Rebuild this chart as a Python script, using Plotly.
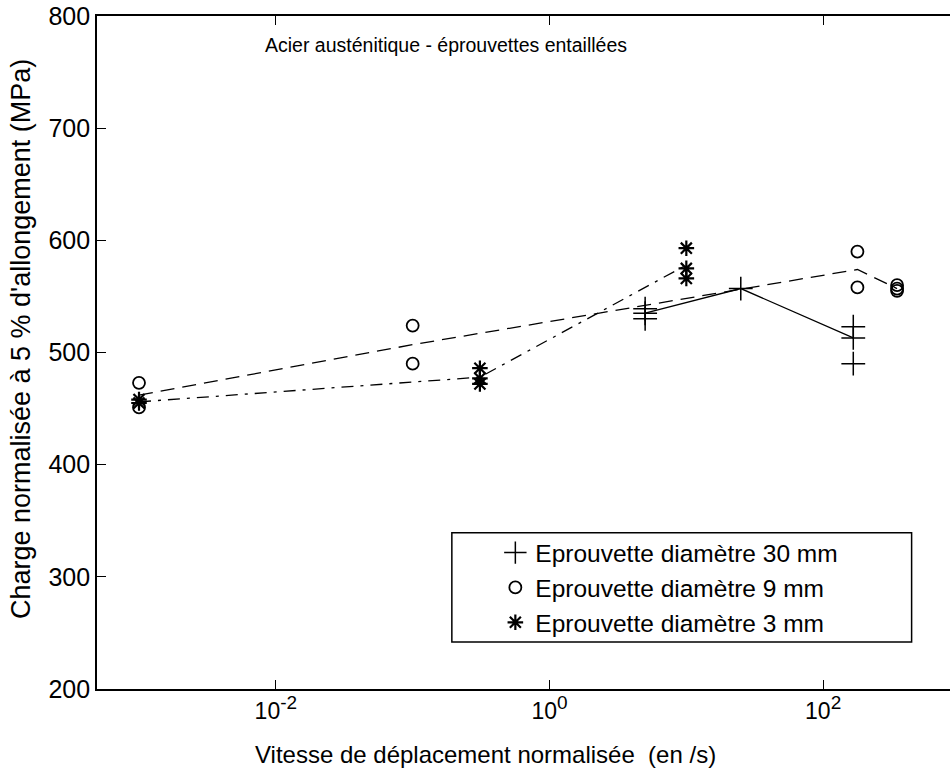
import plotly.graph_objects as go

# ---- data ----
x30 = [5, 5, 5, 25, 166, 166, 166]
y30 = [539, 535, 530, 557, 523, 513, 490]
line30_x = [5, 25, 166]
line30_y = [535, 557, 513]

x9 = [0.001, 0.001, 0.1, 0.1, 178, 178, 347, 347, 347]
y9 = [473, 451, 524, 490, 590, 558, 560, 557, 555]
line9_x = [0.001, 0.1, 178, 347]
line9_y = [462, 507, 574, 557]

x3 = [0.001, 0.001, 0.31, 0.31, 0.31, 10, 10, 10]
y3 = [458, 455, 486, 477, 472, 593, 575, 566]
line3_x = [0.001, 0.31, 10]
line3_y = [456, 478, 578]

x_tickvals = [0.01, 1, 100]
x_ticktext = ["10<sup><span style='font-size:19px'>-2</span></sup>",
              "10<sup><span style='font-size:19px'>0</span></sup>",
              "10<sup><span style='font-size:19px'>2</span></sup>"]
y_tickvals = [200, 300, 400, 500, 600, 700, 800]

names = ["Eprouvette diamètre 30 mm", "Eprouvette diamètre 9 mm", "Eprouvette diamètre 3 mm"]

FONT = "Liberation Sans, Arial, sans-serif"
fig = go.Figure()

# fit lines
fig.add_trace(go.Scatter(x=line30_x, y=line30_y, mode="lines", showlegend=False,
                         line=dict(color="black", width=1.3)))
fig.add_trace(go.Scatter(x=line9_x, y=line9_y, mode="lines", showlegend=False,
                         line=dict(color="black", width=1.3, dash="14px,8px")))
fig.add_trace(go.Scatter(x=line3_x, y=line3_y, mode="lines", showlegend=False,
                         line=dict(color="black", width=1.3, dash="12px,7px,3px,7px")))

# markers
fig.add_trace(go.Scatter(x=x30, y=y30, mode="markers", name=names[0],
                         marker=dict(symbol="cross-thin", size=17, color="black",
                                     line=dict(color="black", width=1.5))))
fig.add_trace(go.Scatter(x=x9, y=y9, mode="markers", name=names[1],
                         marker=dict(symbol="circle-open", size=12, color="black",
                                     line=dict(color="black", width=1.8))))
fig.add_trace(go.Scatter(x=x3, y=y3, mode="markers", name=names[2],
                         marker=dict(symbol="asterisk-open", size=13, color="black",
                                     line=dict(color="black", width=2.2))))

fig.update_layout(
    width=950, height=772,
    margin=dict(l=97, r=0, t=16, b=83),
    paper_bgcolor="white", plot_bgcolor="white",
    font=dict(family=FONT, color="black", size=20),
    showlegend=True,
    legend=dict(x=0.467, y=0.236, xanchor="left", yanchor="top",
                bgcolor="rgba(0,0,0,0)", borderwidth=0,
                font=dict(size=24.5, family=FONT), tracegroupgap=0),
    annotations=[
        dict(text="Acier austénitique - éprouvettes entaillées",
             xref="paper", yref="paper", x=0.409, y=0.957,
             xanchor="center", yanchor="middle", showarrow=False,
             font=dict(size=19.5, family=FONT)),
        dict(text="Vitesse de déplacement normalisée  (en /s)",
             xref="paper", yref="paper", x=0.455, y=-0.097,
             xanchor="center", yanchor="middle", showarrow=False,
             font=dict(size=24, family=FONT)),
        dict(text="Charge normalisée à 5 % d'allongement (MPa)",
             xref="paper", yref="paper", x=-0.089, y=0.52, textangle=-90,
             xanchor="center", yanchor="middle", showarrow=False,
             font=dict(size=27, family=FONT)),
    ],
    shapes=[dict(type="rect", xref="paper", yref="paper",
                 x0=0.416, x1=0.955, y0=0.07, y1=0.232,
                 line=dict(color="black", width=1.5), fillcolor="rgba(0,0,0,0)",
                 layer="below")],
)

fig.update_xaxes(type="log", range=[-3.307, 2.927],
                 tickvals=x_tickvals, ticktext=x_ticktext,
                 ticks="inside", ticklen=9, tickwidth=1.2, tickcolor="black",
                 showline=True, linecolor="black", linewidth=1.8, mirror="allticks",
                 showgrid=False, zeroline=False,
                 tickfont=dict(size=23, family=FONT))
fig.update_yaxes(range=[200, 800], tickvals=y_tickvals,
                 ticks="inside", ticklen=9, tickwidth=1.2, tickcolor="black",
                 showline=True, linecolor="black", linewidth=1.8,
                 showgrid=False, zeroline=False,
                 tickfont=dict(size=25, family=FONT))

fig.write_html("out.html", config={"displayModeBar": False},
               post_script="document.body.style.margin='0';document.body.style.overflow='hidden';window.dispatchEvent(new Event('resize'));")
